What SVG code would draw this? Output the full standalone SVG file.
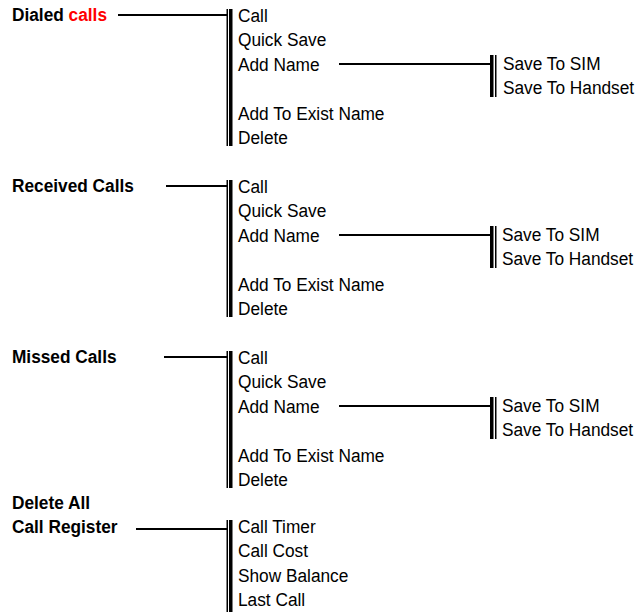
<svg xmlns="http://www.w3.org/2000/svg" width="640" height="615" viewBox="0 0 640 615">
<style>
.lbl,.item{font-family:"Liberation Sans",Arial,sans-serif;font-size:18px;fill:#000;transform-box:fill-box;transform-origin:left center;transform:scaleX(0.96)}
.lbl{font-weight:bold}
.red{fill:#ff0000}
.bar{fill:#000}
.conn{stroke:#000;stroke-width:2;fill:none}
</style>
<rect width="640" height="615" fill="#fff"/>
<g id="connectors">
  <line class="conn" x1="118" y1="15" x2="227" y2="15"/>
  <line class="conn" x1="339" y1="64" x2="490" y2="64"/>
  <line class="conn" x1="166" y1="186" x2="227" y2="186"/>
  <line class="conn" x1="339" y1="235" x2="490" y2="235"/>
  <line class="conn" x1="164" y1="357" x2="227" y2="357"/>
  <line class="conn" x1="339" y1="406" x2="490" y2="406"/>
  <line class="conn" x1="136" y1="529" x2="227" y2="529"/>
</g>
<g id="dialed-calls"><text class="lbl" x="12" y="21.5">Dialed <tspan class="red">calls</tspan></text></g>
<g id="dialed-menu">
  <rect class="bar" x="226.5" y="9" width="1.5" height="137"/>
  <rect class="bar" x="229" y="9" width="3.5" height="137"/>
  <text class="item" x="238" y="22">Call</text>
  <text class="item" x="238" y="46.5">Quick Save</text>
  <text class="item" x="238" y="71">Add Name</text>
  <text class="item" x="238" y="120">Add To Exist Name</text>
  <text class="item" x="238" y="144.5">Delete</text>
</g>
<g id="dialed-addname">
  <rect class="bar" x="490" y="55" width="3.5" height="42"/>
  <rect class="bar" x="495" y="55" width="1.5" height="42"/>
  <text class="item" x="503" y="70">Save To SIM</text>
  <text class="item" x="503" y="94">Save To Handset</text>
</g>
<g id="received-calls"><text class="lbl" x="12" y="192.5">Received Calls</text></g>
<g id="received-menu">
  <rect class="bar" x="226.5" y="180" width="1.5" height="137"/>
  <rect class="bar" x="229" y="180" width="3.5" height="137"/>
  <text class="item" x="238" y="193">Call</text>
  <text class="item" x="238" y="217.5">Quick Save</text>
  <text class="item" x="238" y="242">Add Name</text>
  <text class="item" x="238" y="291">Add To Exist Name</text>
  <text class="item" x="238" y="315.5">Delete</text>
</g>
<g id="received-addname">
  <rect class="bar" x="490" y="226" width="3.5" height="42"/>
  <rect class="bar" x="495" y="226" width="1.5" height="42"/>
  <text class="item" x="502" y="241">Save To SIM</text>
  <text class="item" x="502" y="265">Save To Handset</text>
</g>
<g id="missed-calls"><text class="lbl" x="12" y="363.5">Missed Calls</text></g>
<g id="missed-menu">
  <rect class="bar" x="226.5" y="351" width="1.5" height="137"/>
  <rect class="bar" x="229" y="351" width="3.5" height="137"/>
  <text class="item" x="238" y="364">Call</text>
  <text class="item" x="238" y="388.5">Quick Save</text>
  <text class="item" x="238" y="413">Add Name</text>
  <text class="item" x="238" y="462">Add To Exist Name</text>
  <text class="item" x="238" y="486.5">Delete</text>
</g>
<g id="missed-addname">
  <rect class="bar" x="490" y="397" width="3.5" height="42"/>
  <rect class="bar" x="495" y="397" width="1.5" height="42"/>
  <text class="item" x="502" y="412">Save To SIM</text>
  <text class="item" x="502" y="436">Save To Handset</text>
</g>
<g id="delete-all">
  <text class="lbl" x="12" y="509.5">Delete All</text>
  <text class="lbl" x="12" y="533">Call Register</text>
</g>
<g id="call-register-menu">
  <rect class="bar" x="226.5" y="520" width="1.5" height="92"/>
  <rect class="bar" x="229" y="520" width="3.5" height="92"/>
  <text class="item" x="238" y="533">Call Timer</text>
  <text class="item" x="238" y="557.5">Call Cost</text>
  <text class="item" x="238" y="582">Show Balance</text>
  <text class="item" x="238" y="606.5">Last Call</text>
</g>
</svg>
